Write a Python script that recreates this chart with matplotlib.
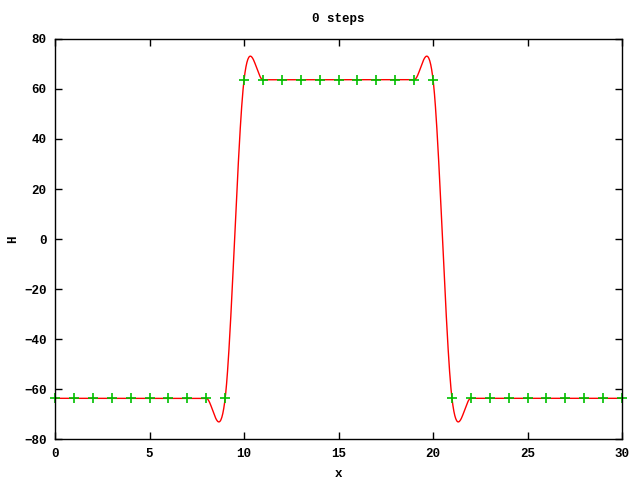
import matplotlib
matplotlib.use("Agg")
import matplotlib.pyplot as plt
import numpy as np

# data points (x, H)
x = np.arange(0, 31)
h = np.array([-63.66] * 10 + [63.66] * 11 + [-63.66] * 10)

title = "0 steps"
xticks = [0, 5, 10, 15, 20, 25, 30]
yticks = [-80, -60, -40, -20, 0, 20, 40, 60, 80]


# gnuplot-like smooth curve: cubic Hermite with Catmull-Rom tangents
def catmull_rom(xs, ys, n=40):
    m = np.gradient(ys, xs)
    px, py = [], []
    for i in range(len(xs) - 1):
        t = np.linspace(0, 1, n, endpoint=False)
        dx = xs[i + 1] - xs[i]
        h00 = 2 * t**3 - 3 * t**2 + 1
        h10 = t**3 - 2 * t**2 + t
        h01 = -2 * t**3 + 3 * t**2
        h11 = t**3 - t**2
        py.append(h00 * ys[i] + h10 * dx * m[i] + h01 * ys[i + 1] + h11 * dx * m[i + 1])
        px.append(xs[i] + t * dx)
    px.append([xs[-1]])
    py.append([ys[-1]])
    return np.concatenate(px), np.concatenate(py)


sx, sy = catmull_rom(x.astype(float), h)

plt.rcParams['font.family'] = ['Liberation Mono', 'DejaVu Sans Mono']
plt.rcParams['font.size'] = 9
plt.rcParams['font.weight'] = 'bold'

fig = plt.figure(figsize=(6.4, 4.8), dpi=100)
ax = fig.add_axes([0.086, 0.085, 0.886, 0.834])

ax.plot(sx, sy, color='#ff0000', linewidth=1)
ax.plot(x, h, linestyle='none', marker='+', color='#00c000',
        markersize=7, markeredgewidth=1.2, clip_on=False)

ax.set_xlim(0, 30)
ax.set_ylim(-80, 80)
ax.set_xticks(xticks)
ax.set_yticks(yticks)
ax.tick_params(direction='in', top=True, right=True, length=5, width=1,
               labelsize=9, pad=6)
for s in ax.spines.values():
    s.set_linewidth(1)

ax.set_xlabel('x', fontweight='bold', labelpad=6)
ax.set_ylabel('H', fontweight='bold')
ax.set_title(title, fontweight='bold', fontsize=9, pad=12)

fig.savefig('out.png', dpi=100)
